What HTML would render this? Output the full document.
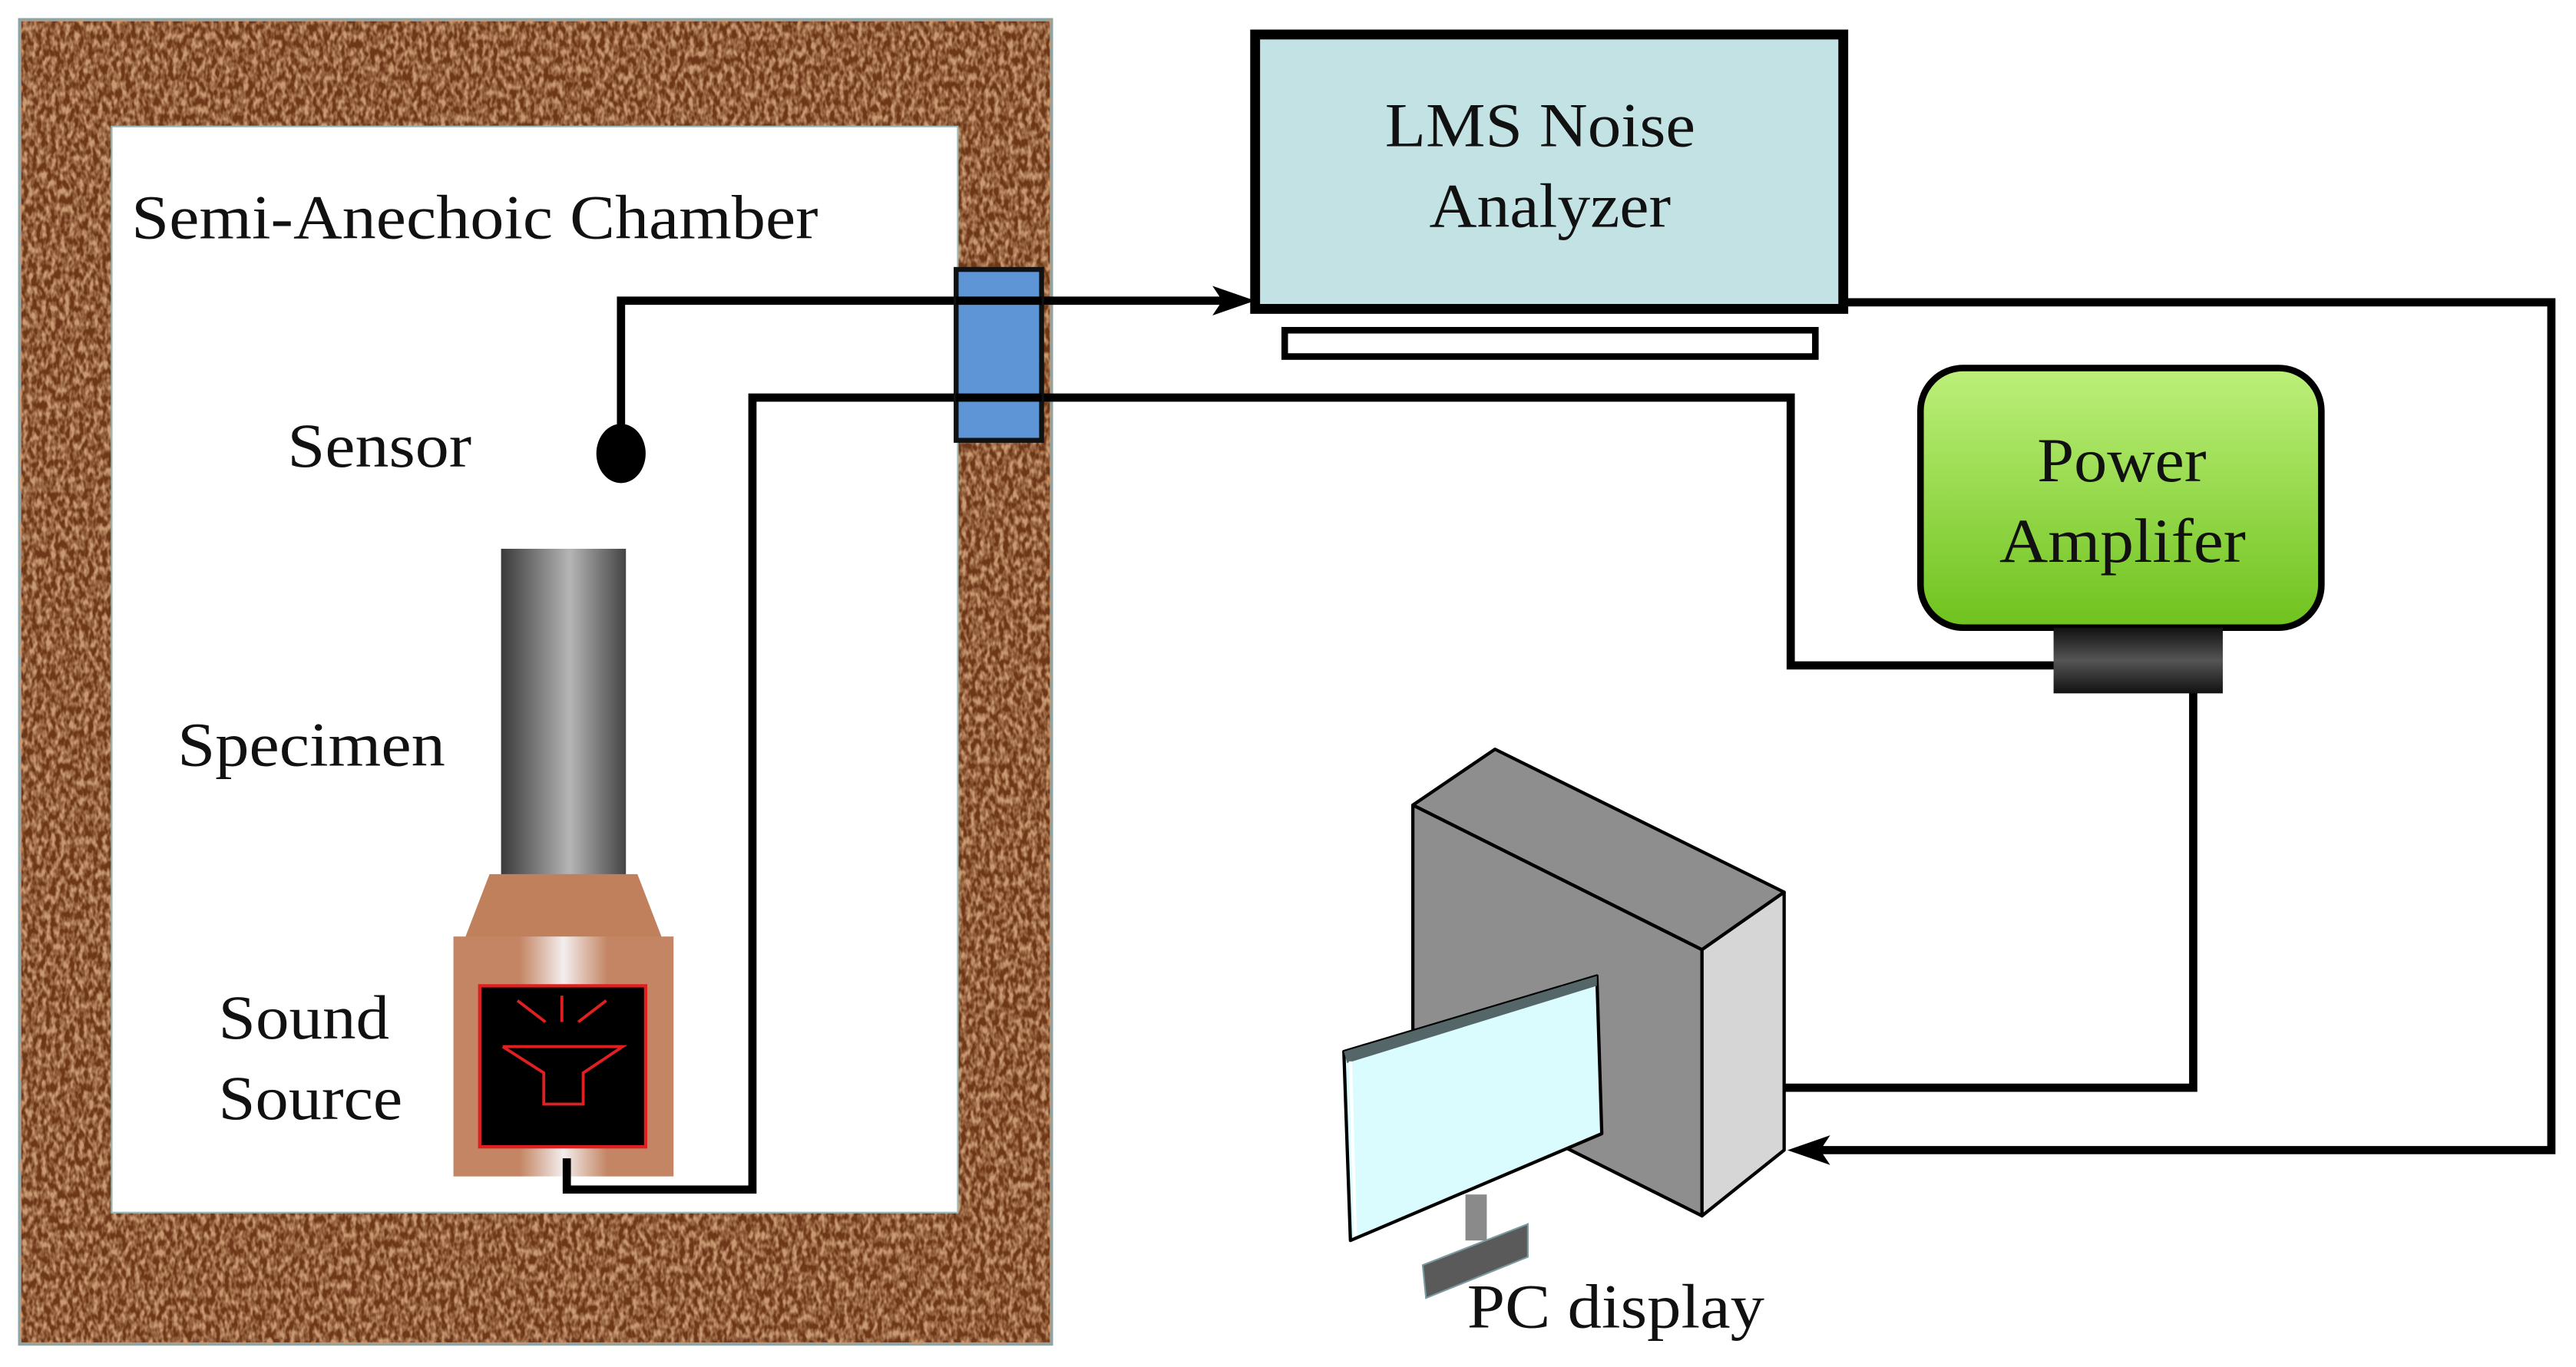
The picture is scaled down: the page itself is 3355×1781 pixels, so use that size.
<!DOCTYPE html>
<html><head><meta charset="utf-8"><style>
html,body{margin:0;padding:0;background:#fff;}
svg{display:block;}
text{font-family:"Liberation Serif",serif;fill:#111;}
</style></head><body>
<svg width="3355" height="1781" viewBox="0 0 1568 832" preserveAspectRatio="none" xmlns="http://www.w3.org/2000/svg">
<defs>
<filter id="tex" x="0" y="0" width="100%" height="100%">
<feTurbulence type="fractalNoise" baseFrequency="0.35 0.2" numOctaves="2" seed="3" result="n"/>
<feColorMatrix in="n" type="matrix" values="0 0 0 0 0.58  0 0 0 0 0.32  0 0 0 0 0.17  0 0 0 -2.6 1.7" result="c"/>
<feComposite in="c" in2="SourceGraphic" operator="in"/>
</filter>
<linearGradient id="cyl" x1="0" x2="1" y1="0" y2="0">
<stop offset="0" stop-color="#3a3a3a"/><stop offset="0.55" stop-color="#b5b5b5"/><stop offset="1" stop-color="#444"/>
</linearGradient>
<linearGradient id="box" x1="0" x2="1" y1="0" y2="0">
<stop offset="0" stop-color="#c38563"/><stop offset="0.3" stop-color="#c38563"/><stop offset="0.5" stop-color="#f3eeee"/><stop offset="0.7" stop-color="#c38563"/><stop offset="1" stop-color="#c38563"/>
</linearGradient>
<linearGradient id="amp" x1="0" x2="0" y1="0" y2="1">
<stop offset="0" stop-color="#bdf07a"/><stop offset="1" stop-color="#6fc21e"/>
</linearGradient>
<linearGradient id="conn" x1="0" x2="0" y1="0" y2="1">
<stop offset="0" stop-color="#111"/><stop offset="0.5" stop-color="#555"/><stop offset="1" stop-color="#111"/>
</linearGradient>
</defs>

<rect x="12" y="12" width="628" height="806" fill="#6e3717" stroke="#8aa4a8" stroke-width="2"/>
<rect x="12" y="12" width="628" height="806" fill="#6e3717" filter="url(#tex)"/>
<rect x="68" y="77" width="515" height="661" fill="#fff" stroke="#9bb" stroke-width="1"/>

<text x="80" y="145" font-size="38" textLength="418" lengthAdjust="spacingAndGlyphs">Semi-Anechoic Chamber</text>
<text x="175" y="284" font-size="38" textLength="112" lengthAdjust="spacingAndGlyphs">Sensor</text>
<text x="108" y="466" font-size="38" textLength="163" lengthAdjust="spacingAndGlyphs">Specimen</text>
<text x="133" y="632" font-size="38" textLength="104" lengthAdjust="spacingAndGlyphs">Sound</text>
<text x="133" y="681" font-size="38" textLength="112" lengthAdjust="spacingAndGlyphs">Source</text>

<rect x="305" y="334" width="76" height="200" fill="url(#cyl)"/>
<polygon points="298,532 388,532 403,571 283,571" fill="#c0805c"/>
<rect x="276" y="570" width="134" height="146" fill="url(#box)"/>
<rect x="292" y="600" width="101" height="98" fill="#000" stroke="#e02020" stroke-width="2"/>
<g stroke="#e02020" stroke-width="1.8" fill="none">
<line x1="315" y1="609" x2="332" y2="622"/><line x1="342" y1="606" x2="342" y2="622"/><line x1="369" y1="609" x2="352" y2="622"/>
<polyline points="306,637 379,637 355,653 355,672 331,672 331,653 306,637"/>
</g>

<g stroke="#000" stroke-width="5" fill="none">
<polyline points="378,275 378,183 752,183"/>
<polyline points="345,705 345,724 458,724 458,242 1090,242 1090,405 1252,405"/>
<polyline points="1124,184 1553,184 1553,700 1100,700"/>
<polyline points="1335,420 1335,662 1086,662"/>
</g>
<polygon points="764,183 738,174 744,183 738,192" fill="#000"/>
<polygon points="1088,700 1114,691 1108,700 1114,709" fill="#000"/>
<ellipse cx="378" cy="276" rx="15" ry="18" fill="#000"/>

<rect x="582" y="164" width="52" height="104" fill="#5d95d6" stroke="#111" stroke-width="3"/>
<line x1="582" y1="183" x2="634" y2="183" stroke="#000" stroke-width="5"/>
<line x1="582" y1="242" x2="634" y2="242" stroke="#000" stroke-width="5"/>

<rect x="764" y="21" width="358" height="167" fill="#c3e2e4" stroke="#000" stroke-width="6"/>
<rect x="782" y="201" width="323" height="16" fill="#fff" stroke="#000" stroke-width="4"/>
<text x="843" y="89" font-size="38" textLength="189" lengthAdjust="spacingAndGlyphs">LMS Noise</text>
<text x="870" y="138" font-size="38" textLength="147" lengthAdjust="spacingAndGlyphs">Analyzer</text>

<rect x="1169" y="224" width="244" height="158" rx="26" fill="url(#amp)" stroke="#000" stroke-width="4"/>
<text x="1240" y="293" font-size="38" textLength="103" lengthAdjust="spacingAndGlyphs">Power</text>
<text x="1217" y="342" font-size="38" textLength="150" lengthAdjust="spacingAndGlyphs">Amplifer</text>
<rect x="1250" y="382" width="103" height="40" fill="url(#conn)"/>

<g stroke="#000" stroke-width="2" stroke-linejoin="round">
<polygon points="860,490 910,456 1086,543 1036,578" fill="#8e8e8e"/>
<polygon points="860,490 1036,578 1036,740 860,652" fill="#8e8e8e"/>
<polygon points="1036,578 1086,543 1086,700 1036,740" fill="#d6d6d6"/>
<polygon points="818,640 972,594 975,690 822,755" fill="#dafcfe"/>
</g>
<polygon points="818,640 972,594 972,600 820,647" fill="#556668"/>
<line x1="822" y1="646" x2="825" y2="752" stroke="#fff" stroke-width="2"/>
<rect x="892" y="727" width="13" height="28" fill="#8a8a8a"/>
<polygon points="866,770 930,745 930,765 868,790" fill="#5a5a5a" stroke="#7a9aa0" stroke-width="1"/>
<text x="893" y="808" font-size="38" textLength="181" lengthAdjust="spacingAndGlyphs">PC display</text>
</svg>
</body></html>
